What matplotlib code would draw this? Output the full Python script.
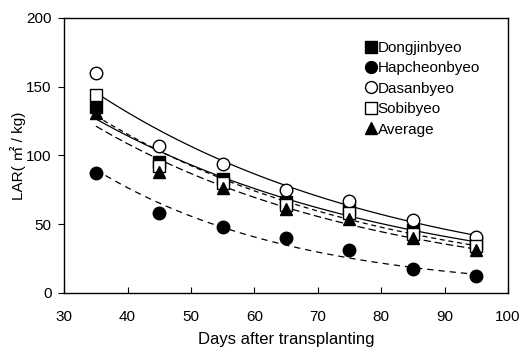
import numpy as np
import matplotlib
matplotlib.use('agg')
import matplotlib.pyplot as plt

plt.rcParams['font.family'] = ['Liberation Sans', 'Noto Sans CJK KR', 'DejaVu Sans']

# LAR by cultivar, sampled every 10 days after transplanting
days = [35, 45, 55, 65, 75, 85, 95]
dongjinbyeo = [135, 95, 83, 66, 61, 46, 36]
hapcheonbyeo = [87, 58, 48, 40, 31, 17, 12]
dasanbyeo = [160, 107, 94, 75, 67, 53, 41]
sobibyeo = [144, 92, 80, 64, 58, 43, 34]
average = [131, 88, 76, 61, 54, 40, 31]

series = [
    ('Dongjinbyeo', dongjinbyeo, 's', 'black', (0, ())),
    ('Hapcheonbyeo', hapcheonbyeo, 'o', 'black', (0, (5, 4))),
    ('Dasanbyeo', dasanbyeo, 'o', 'white', (0, ())),
    ('Sobibyeo', sobibyeo, 's', 'white', (0, (4, 3))),
    ('Average', average, '^', 'black', (0, (6, 3))),
]


def exp_fit(x, y):
    # exponential trend y = a * exp(b * x)
    b, ln_a = np.polyfit(x, np.log(y), 1)
    return lambda t: np.exp(ln_a) * np.exp(b * t)


fig, ax = plt.subplots(figsize=(5.22, 3.52), dpi=100)
fig.subplots_adjust(left=0.123, right=0.973, bottom=0.168, top=0.949)

x_fit = np.linspace(35, 95, 100)
for name, vals, mk, face, ls in series:
    f = exp_fit(np.array(days, float), np.array(vals, float))
    ax.plot(x_fit, f(x_fit), color='black', lw=0.9, linestyle=ls, zorder=2)

# open markers go on top so they stay visible over the filled ones
order = [1, 0, 4, 3, 2]
for i in order:
    name, vals, mk, face, ls = series[i]
    ax.plot(days, vals, linestyle='none', marker=mk, markersize=9,
            markerfacecolor=face, markeredgecolor='black', markeredgewidth=1.0,
            label=name, zorder=3 + i)

handles, labels = ax.get_legend_handles_labels()
lookup = dict(zip(labels, handles))
names = [s[0] for s in series]
ax.legend([lookup[n] for n in names], names, loc='upper left',
          bbox_to_anchor=(0.66, 0.95), frameon=False, fontsize=11,
          handlelength=0.6, handletextpad=0.15, labelspacing=0.42,
          markerscale=0.95, borderaxespad=0.2)

ax.set_xlim(30, 100)
ax.set_ylim(0, 200)
ax.set_xticks(range(30, 101, 10))
ax.set_yticks(range(0, 201, 50))
ax.tick_params(axis='x', direction='in', length=4, labelsize=11, pad=12)
ax.tick_params(axis='y', direction='out', length=4, labelsize=11, pad=5)
for sp in ax.spines.values():
    sp.set_linewidth(1.0)

ax.set_xlabel('Days after transplanting', fontsize=12, labelpad=6)
ax.set_ylabel('LAR( ㎡ / kg)', fontsize=11, labelpad=0)

fig.savefig('out.png', dpi=100)
